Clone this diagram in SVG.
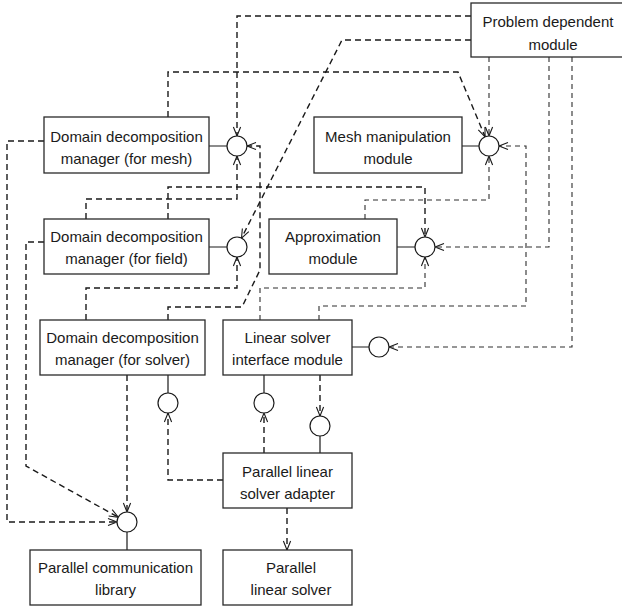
<svg xmlns="http://www.w3.org/2000/svg" width="622" height="607" viewBox="0 0 622 607">
  <style>
    .box { fill: #ffffff; stroke: #2a2a2a; stroke-width: 1.3; }
    .lbl { font-family: "Liberation Sans", Arial, Helvetica, sans-serif; font-size: 15px; fill: #1a1a1a; text-anchor: middle; }
    .iface { fill: #ffffff; stroke: #1a1a1a; stroke-width: 1.2; }
    .solid { fill: none; stroke: #1a1a1a; stroke-width: 1.2; }
    .dep { fill: none; stroke: #1a1a1a; stroke-width: 1.4; stroke-dasharray: 6 4; marker-end: url(#open); }
    .dep.light { stroke: #2e2e2e; stroke-width: 1.1; stroke-dasharray: 5 4; }
  </style>
  <defs>
    <marker id="open" viewBox="-10 -5 12 10" refX="0" refY="0" markerWidth="12" markerHeight="10" markerUnits="userSpaceOnUse" orient="auto">
      <path d="M-9,-3.6 L0,0 L-9,3.6" fill="none" stroke="#1a1a1a" stroke-width="1.1" stroke-dasharray="none"/>
    </marker>
  </defs>

  <rect width="622" height="607" fill="#ffffff"/>

  <!-- dependency connectors -->
  <g id="connectors">
    <!-- Problem dependent module -->
    <path class="dep" d="M471,16 H237 V136"/>
    <path class="dep" d="M471,40 H342 L241.5,238.1"/>
    <path class="dep light" d="M489,57 V136"/>
    <path class="dep light" d="M549,57 V247 H435"/>
    <path class="dep light" d="M572,57 V347 H389"/>
    <!-- domain decomposition managers -->
    <path class="dep" d="M168,117 V72 H458 L485.1,136.8"/>
    <path class="dep" d="M168,219 V187 H425 V237"/>
    <path class="dep" d="M86,219 V199 H237 V156"/>
    <path class="dep" d="M168,320 V307 H242 L260,270 V146 H247"/>
    <path class="dep" d="M86,320 V288 H237 V257"/>
    <path class="dep" d="M127,375 V512"/>
    <path class="dep" d="M44,141 H7 V522 H117"/>
    <path class="dep" d="M44,242 H26 V466 L118.3,517.2"/>
    <!-- approximation / linear solver interface -->
    <path class="dep light" d="M365,219 V200 H489 V156"/>
    <path class="dep light" d="M319,320 V306 H526 V146 H499"/>
    <path class="dep light" d="M260,320 V288 H425 V257"/>
    <path class="dep" d="M320,375 V416"/>
    <!-- parallel linear solver adapter -->
    <path class="dep" d="M223,480 H168 V413"/>
    <path class="dep" d="M264,453 V413"/>
    <path class="dep" d="M287,508 V550"/>

    <!-- provided interfaces (lollipops) -->
    <path class="solid" d="M209,146 H227 M462,146 H479 M209,247 H227 M397,247 H415 M352,347 H369 M168,375 V393 M264,375 V393 M320,436 V453 M127,532 V550"/>
    <circle class="iface" cx="237" cy="146" r="10"/>
    <circle class="iface" cx="489" cy="146" r="10"/>
    <circle class="iface" cx="237" cy="247" r="10"/>
    <circle class="iface" cx="425" cy="247" r="10"/>
    <circle class="iface" cx="379" cy="347" r="10"/>
    <circle class="iface" cx="168" cy="403" r="10"/>
    <circle class="iface" cx="264" cy="403" r="10"/>
    <circle class="iface" cx="320" cy="426" r="10"/>
    <circle class="iface" cx="127" cy="522" r="10"/>
  </g>

  <g id="problem-dependent">
    <rect class="box" x="471" y="3" width="170" height="54"/>
    <text class="lbl" x="548" y="27">Problem dependent</text>
    <text class="lbl" x="553" y="50">module</text>
  </g>
  <g id="ddm-mesh">
    <rect class="box" x="44" y="117" width="165" height="56"/>
    <text class="lbl" x="126.5" y="142">Domain decomposition</text>
    <text class="lbl" x="126.5" y="164">manager (for mesh)</text>
  </g>
  <g id="mesh-manipulation">
    <rect class="box" x="314" y="117" width="148" height="56"/>
    <text class="lbl" x="388" y="142">Mesh manipulation</text>
    <text class="lbl" x="388" y="164">module</text>
  </g>
  <g id="ddm-field">
    <rect class="box" x="44" y="219" width="165" height="55"/>
    <text class="lbl" x="126.5" y="242">Domain decomposition</text>
    <text class="lbl" x="126.5" y="264">manager (for field)</text>
  </g>
  <g id="approximation">
    <rect class="box" x="269" y="219" width="128" height="55"/>
    <text class="lbl" x="333" y="242">Approximation</text>
    <text class="lbl" x="333" y="264">module</text>
  </g>
  <g id="ddm-solver">
    <rect class="box" x="40" y="320" width="165" height="55"/>
    <text class="lbl" x="122.5" y="343">Domain decomposition</text>
    <text class="lbl" x="122.5" y="365">manager (for solver)</text>
  </g>
  <g id="linear-solver-interface">
    <rect class="box" x="223" y="320" width="129" height="55"/>
    <text class="lbl" x="287.5" y="343">Linear solver</text>
    <text class="lbl" x="287.5" y="365">interface module</text>
  </g>
  <g id="solver-adapter">
    <rect class="box" x="223" y="453" width="129" height="55"/>
    <text class="lbl" x="287.5" y="477">Parallel linear</text>
    <text class="lbl" x="287.5" y="499">solver adapter</text>
  </g>
  <g id="communication-library">
    <rect class="box" x="30" y="550" width="171" height="55"/>
    <text class="lbl" x="115.5" y="573">Parallel communication</text>
    <text class="lbl" x="115.5" y="595">library</text>
  </g>
  <g id="linear-solver">
    <rect class="box" x="223" y="550" width="129" height="55"/>
    <text class="lbl" x="291" y="573">Parallel</text>
    <text class="lbl" x="291" y="595">linear solver</text>
  </g>
</svg>
